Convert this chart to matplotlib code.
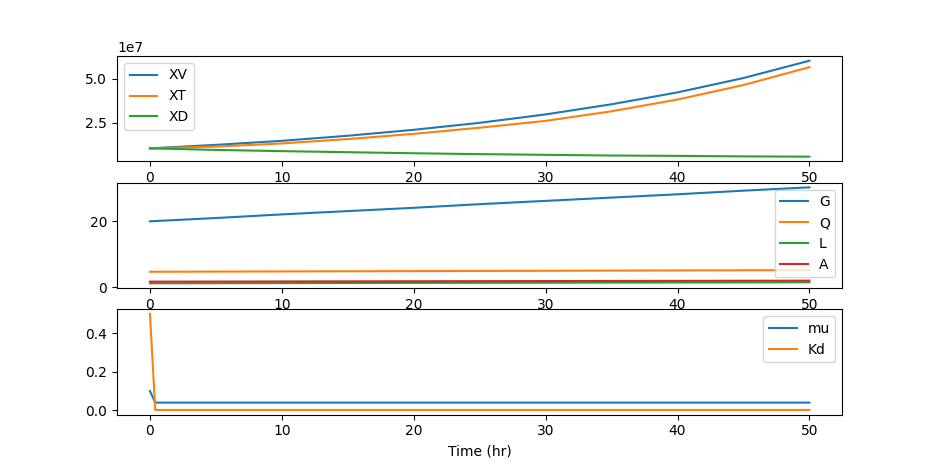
import numpy as np
import matplotlib
matplotlib.use('Agg')
import matplotlib.pyplot as plt

t = [0, 5, 10, 15, 20, 25, 30, 35, 40, 45, 50]

# cell densities
XV = [1.03e7, 1.23e7, 1.46e7, 1.75e7, 2.09e7, 2.49e7, 2.97e7, 3.55e7, 4.23e7, 5.05e7, 6.04e7]
XT = [1.03e7, 1.13e7, 1.31e7, 1.56e7, 1.86e7, 2.21e7, 2.60e7, 3.15e7, 3.82e7, 4.65e7, 5.67e7]
XD = [1.03e7, 0.94e7, 0.87e7, 0.81e7, 0.75e7, 0.70e7, 0.66e7, 0.62e7, 0.60e7, 0.57e7, 0.555e7]

# concentrations
G = [20.0, 21.0, 22.1, 23.1, 24.1, 25.2, 26.2, 27.2, 28.2, 29.3, 30.3]
Q = [4.7, 4.75, 4.8, 4.85, 4.9, 4.95, 5.0, 5.05, 5.1, 5.15, 5.2]
L = [1.2, 1.23, 1.26, 1.29, 1.32, 1.35, 1.38, 1.41, 1.44, 1.47, 1.5]
A = [1.7, 1.73, 1.76, 1.79, 1.82, 1.85, 1.88, 1.91, 1.94, 1.97, 2.0]

# rate parameters
t_par = [0, 0.4, 50]
mu = [0.1, 0.04, 0.04]
Kd = [0.5, 0.002, 0.002]

fig, (ax1, ax2, ax3) = plt.subplots(3, 1, figsize=(9.36, 4.66), dpi=100)

ax1.plot(t, XV, label='XV')
ax1.plot(t, XT, label='XT')
ax1.plot(t, XD, label='XD')
ax1.legend(loc='upper left')

ax2.plot(t, G, label='G')
ax2.plot(t, Q, label='Q')
ax2.plot(t, L, label='L')
ax2.plot(t, A, label='A')
ax2.legend(loc='upper right')

ax3.plot(t_par, mu, label='mu')
ax3.plot(t_par, Kd, label='Kd')
ax3.legend(loc='upper right')
ax3.set_xlabel('Time (hr)')

plt.savefig('out.png')
